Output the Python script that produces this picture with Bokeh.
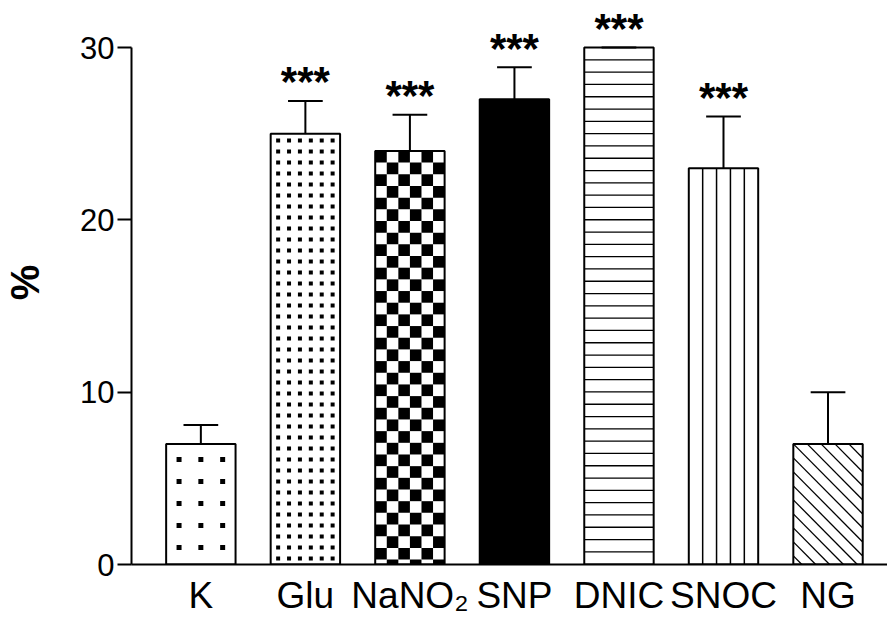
import math
from bokeh.plotting import figure
from bokeh.models import ColumnDataSource, FixedTicker, Range1d
from bokeh.core.properties import value
from bokeh.embed import file_html
from bokeh.resources import INLINE

# Treatment groups, mean response (%) and SEM
groups = ["K", "Glu", "NaNO₂", "SNP", "DNIC", "SNOC", "NG"]
means = [7, 25, 24, 27, 30, 23, 7]
sems = [1.1, 1.9, 2.1, 1.85, 0.0, 3.0, 3.0]
signif = ["", "***", "***", "***", "***", "***", ""]
y_ticks = [0, 10, 20, 30]

# Layout of the plotting frame
WIDTH, HEIGHT = 887, 619
BORDER_LEFT, BORDER_BOTTOM = 124, 55
X_START, X_END = -0.6635, 6.569
Y_END = 32.73
BAR_W = 0.664

FRAME_W = WIDTH - BORDER_LEFT
FRAME_H = HEIGHT - BORDER_BOTTOM
PX_X = FRAME_W / (X_END - X_START)   # pixels per x unit
PX_Y = FRAME_H / Y_END               # pixels per y unit

xs = list(range(len(groups)))

p = figure(
    width=WIDTH, height=HEIGHT,
    x_range=Range1d(X_START, X_END),
    y_range=Range1d(0, Y_END),
    output_backend="svg", toolbar_location=None,
    min_border_left=BORDER_LEFT, min_border_right=0, min_border_top=0,
    min_border_bottom=BORDER_BOTTOM,
)
p.outline_line_color = None
p.xgrid.visible = False
p.ygrid.visible = False
p.background_fill_color = "white"
p.border_fill_color = "white"

fills = ["white", "white", "white", "black", "white", "white", "white"]
p.vbar(x=xs, top=means, bottom=0, width=BAR_W, fill_color=fills, line_color=None)


def bar_edges(i):
    return xs[i] - BAR_W / 2, xs[i] + BAR_W / 2, means[i]


def dot_grid(i, step, size, first_row):
    """Square dots on a regular pixel grid inside bar i."""
    left, right, top = bar_edges(i)
    bar_px = BAR_W * PX_X
    top_px = top * PX_Y
    ncol = int(bar_px // step)
    dx, dy = [], []
    row = first_row
    while row + size / 2 < top_px - 4:
        for k in range(ncol):
            dx.append(xs[i] + (k - (ncol - 1) / 2) * step / PX_X)
            dy.append(row / PX_Y)
        row += step
    p.scatter(x=dx, y=dy, marker="square", size=size, fill_color="black", line_color=None)


def checker(i, ncol):
    left, right, top = bar_edges(i)
    w = BAR_W / ncol
    h = (BAR_W * PX_X / ncol) / PX_Y
    L, R, T, B = [], [], [], []
    r = 0
    while top - r * h > 0:
        for c in range(ncol):
            if (r + c) % 2 == 0:
                L.append(left + c * w)
                R.append(left + (c + 1) * w)
                T.append(top - r * h)
                B.append(max(0.0, top - (r + 1) * h))
        r += 1
    p.quad(left=L, right=R, top=T, bottom=B, fill_color="black", line_color=None)


def hlines(i, step_px, lw):
    left, right, top = bar_edges(i)
    ys = []
    k = 1
    while top - k * step_px / PX_Y > 0.3:
        ys.append(top - k * step_px / PX_Y)
        k += 1
    p.segment(x0=[left] * len(ys), y0=ys, x1=[right] * len(ys), y1=ys,
              line_color="black", line_width=lw)


def vlines(i, n, lw):
    left, right, top = bar_edges(i)
    vx = [left + k * BAR_W / n for k in range(1, n)]
    p.segment(x0=vx, y0=[0] * len(vx), x1=vx, y1=[top] * len(vx),
              line_color="black", line_width=lw)


def backslash(i, step_px, lw):
    left, right, top = bar_edges(i)
    W = BAR_W * PX_X
    H = top * PX_Y
    x0, y0, x1, y1 = [], [], [], []
    c = -math.floor(H / step_px) * step_px
    while c < W:
        v_a = max(0.0, -c)
        v_b = min(H, W - c)
        if v_b > v_a:
            x0.append(left + (v_a + c) / PX_X)
            y0.append(top - v_a / PX_Y)
            x1.append(left + (v_b + c) / PX_X)
            y1.append(top - v_b / PX_Y)
        c += step_px
    p.segment(x0=x0, y0=y0, x1=x1, y1=y1, line_color="black", line_width=lw)


# Bar textures
dot_grid(0, 22, 5, 17)
dot_grid(1, 11, 4, 6)
checker(2, 6)
hlines(4, 12.3, 1.3)
vlines(5, 5, 1.5)
backslash(6, 14, 1.3)

# Bar outlines
p.vbar(x=xs, top=means, bottom=0, width=BAR_W, fill_color=None,
       line_color="black", line_width=2)

# Upper error bars
err = ColumnDataSource(dict(
    x=xs,
    lo=means,
    hi=[m + s for m, s in zip(means, sems)],
    cl=[x - BAR_W / 4 for x in xs],
    cr=[x + BAR_W / 4 for x in xs],
))
p.segment(x0="x", y0="lo", x1="x", y1="hi", source=err, line_color="black", line_width=2)
p.segment(x0="cl", y0="hi", x1="cr", y1="hi", source=err, line_color="black", line_width=2)

# Significance markers
sig = ColumnDataSource(dict(
    x=[x for x, s in zip(xs, signif) if s],
    y=[m + e for m, e, s in zip(means, sems, signif) if s],
    t=[s for s in signif if s],
))
p.text(x="x", y="y", text="t", source=sig, text_align="center", text_baseline="alphabetic",
       y_offset=-19,
       text_font=value("Liberation Sans"), text_font_style="bold", text_font_size="42px",
       text_color="black")

# Axes
xa = p.xaxis[0]
xa.ticker = FixedTicker(ticks=xs)
xa.major_label_overrides = {x: g for x, g in zip(xs, groups)}
xa.major_tick_out = 0
xa.major_tick_in = 0
xa.minor_tick_out = 0
xa.minor_tick_in = 0
xa.axis_line_width = 2
xa.major_label_standoff = 10
xa.major_label_text_font = "Liberation Sans"
xa.major_label_text_font_size = "37px"
xa.major_label_text_color = "black"

ya = p.yaxis[0]
ya.ticker = FixedTicker(ticks=y_ticks)
ya.bounds = (0, 30)
ya.major_tick_out = 14
ya.major_tick_in = 0
ya.minor_tick_out = 0
ya.minor_tick_in = 0
ya.axis_line_width = 2
ya.major_tick_line_width = 2
ya.major_label_standoff = 3
ya.major_label_text_font = "Liberation Sans"
ya.major_label_text_font_size = "31px"
ya.major_label_text_color = "black"
ya.axis_label = "%"
ya.axis_label_text_font = "Liberation Sans"
ya.axis_label_text_font_style = "bold"
ya.axis_label_text_font_size = "40px"
ya.axis_label_standoff = 30
ya.axis_label_text_color = "black"

open("out.html", "w").write(file_html(p, INLINE))
